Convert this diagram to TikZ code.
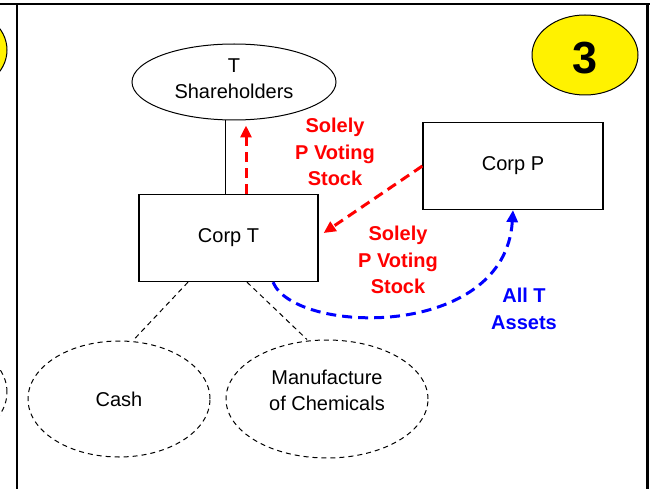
\documentclass[tikz,border=0pt]{standalone}
\usepackage{fontspec}
\setmainfont{Liberation Sans}
\usetikzlibrary{arrows.meta,shapes.geometric}
\begin{document}
\begin{tikzpicture}[x=1pt,y=-1pt,
  txt/.style={font=\fontsize{20}{26}\selectfont, align=center},
  lbl/.style={font=\fontsize{20}{26.5}\selectfont\bfseries, align=center},
  box/.style={draw, line width=1.3pt, minimum width=179pt, minimum height=87pt, inner sep=0pt, txt},
  oval/.style={ellipse, draw, line width=1pt, inner sep=0pt, txt},
  dashoval/.style={oval, dash pattern=on 5pt off 4pt},
  thinlink/.style={line width=1pt, dash pattern=on 5pt off 4pt},
  flow/.style={line width=3pt, dash pattern=on 10pt off 6pt, -{Triangle[length=12pt,width=11pt]}},
  frame/.style={line width=2pt}]
\useasboundingbox (0,0) rectangle (650,489);
\clip (0,0) rectangle (650,489);
% frame
\coordinate (tl) at (-5,4);
\coordinate (tr) at (655,4);
\coordinate (lt) at (17,4);
\coordinate (lb) at (17,495);
\coordinate (rt) at (647,4);
\coordinate (rb) at (647,495);
\draw[frame] (tl) -- (tr);
\draw[frame] (lt) -- (lb);
\draw[line width=3pt] (rt) -- (rb);
% partial shapes from neighbouring panel
\node[oval, fill=yellow, minimum width=104pt, minimum height=84pt] (prevthree) at (-45,50) {};
\node[dashoval, minimum width=180pt, minimum height=116pt] (prevoval) at (-83,392) {};
% number badge
\node[oval, fill=yellow, minimum width=106pt, minimum height=80pt] (three) at (585,55) {};
\node[font=\fontsize{45}{50}\selectfont\bfseries, inner sep=0pt] (threetxt) at (585,58) {3};
% main nodes
\node[oval, minimum width=204pt, minimum height=76pt] (tsh) at (234,82) {};
\node[txt] (tshtxt) at (234,79) {T\\Shareholders};
\node[box] (ct) at (228.5,238) {Corp T};
\node[box, minimum width=180pt] (cp) at (513,166) {Corp P};
\node[dashoval, minimum width=182pt, minimum height=116pt] (cash) at (119,399) {Cash};
\node[dashoval, minimum width=202pt, minimum height=118pt] (mfg) at (327,399) {};
\node[txt] (mfgtxt) at (327,390) {Manufacture\\of Chemicals};
% connectors
\draw[line width=1pt] ([xshift=-9pt]tsh.south) -- ([xshift=-3.5pt]ct.north);
\draw[thinlink] ([xshift=-40.5pt]ct.south) -- ([xshift=14pt]cash.north);
\draw[thinlink] ([xshift=18.5pt]ct.south) -- ([xshift=-20pt]mfg.north);
\draw[flow, red] ([xshift=17.5pt]ct.north) -- ([xshift=12pt,yshift=-5pt]tsh.south);
\draw[flow, red] (cp.west) -- ([shift={(5pt,5pt)}]ct.east);
\draw[flow, blue] ([xshift=44.5pt]ct.south) .. controls (295,335) and (505,340) .. (cp.south);
% labels
\node[lbl, text=red] (lab1) at (335,152) {Solely\\P Voting\\Stock};
\node[lbl, text=red] (lab2) at (398,260) {Solely\\P Voting\\Stock};
\node[lbl, text=blue] (lab3) at (524,309) {All T\\Assets};
\end{tikzpicture}
\end{document}
